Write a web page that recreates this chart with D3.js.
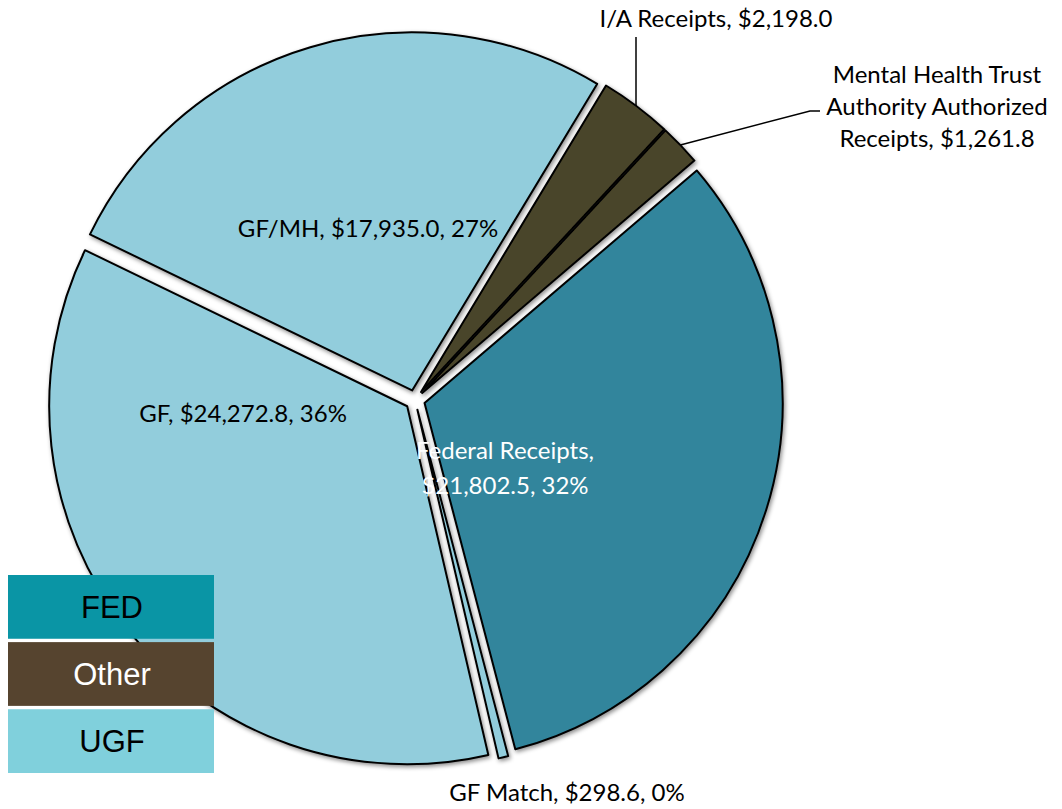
<!DOCTYPE html>
<html>
<head>
  <meta charset="utf-8">
  <script src="https://d3js.org/d3.v7.min.js"></script>
  <style>
    body { margin: 0; background: #fff; }
    .lbl { font-family: Lato, "Noto Sans", sans-serif; font-size: 24px; fill: #000; }
    .legend text { font-family: "Liberation Sans Narrow", "Liberation Sans", Arial, sans-serif; font-size: 31px; }
  </style>
</head>
<body>
<script>
  // data
  var categories = ["GF", "GF/MH", "I/A Receipts", "Mental Health Trust Authority Authorized Receipts", "Federal Receipts", "GF Match"];
  var values = [24272.8, 17935.0, 2198.0, 1261.8, 21802.5, 298.6];
  var percents = ["36%", "27%", "3%", "2%", "32%", "0%"];
  var groups = ["UGF", "UGF", "Other", "Other", "FED", "UGF"];
  var legendItems = ["FED", "Other", "UGF"];

  var width = 1062, height = 809;
  var cx = 415, cy = 400, radius = 358, explode = 10;
  var startDeg = 166.9;

  var sliceColor = { "UGF": "#92CDDC", "Other": "#4A452A", "FED": "#31859C" };
  var legendColor = { "FED": "#0A95A5", "Other": "#56442F", "UGF": "#80D0DC" };
  var legendText = { "FED": "#000", "Other": "#fff", "UGF": "#000" };

  var fmt = d3.format(",.1f");

  // label lines and positions (x = center of text block, y = first baseline)
  var labelLayout = [
    { x: 243, y: 422, dy: 0, color: "#000", lines: function(d) { return [d.name + ", $" + fmt(d.value) + ", " + d.pct]; } },
    { x: 368, y: 237, dy: 0, color: "#000", lines: function(d) { return [d.name + ", $" + fmt(d.value) + ", " + d.pct]; } },
    { x: 716, y: 27, dy: 0, color: "#000", lines: function(d) { return [d.name + ", $" + fmt(d.value)]; },
      leader: [[636, 37]] },
    { x: 937, y: 83, dy: 32, color: "#000", lines: function(d) { return ["Mental Health Trust", "Authority Authorized", "Receipts, $" + fmt(d.value)]; },
      leader: [[810, 111], [820, 111]] },
    { x: 505, y: 459, dy: 35, color: "#fff", lines: function(d) { return [d.name + ",", "$" + fmt(d.value) + ", " + d.pct]; } },
    { x: 567, y: 801, dy: 0, color: "#000", lines: function(d) { return [d.name + ", $" + fmt(d.value) + ", " + d.pct]; } }
  ];

  var data = categories.map(function(c, i) {
    return { name: c, value: values[i], group: groups[i], pct: percents[i] };
  });

  var svg = d3.select("body").append("svg")
    .attr("width", width)
    .attr("height", height);

  var defs = svg.append("defs");
  var f = defs.append("filter").attr("id", "shadow")
    .attr("x", "-10%").attr("y", "-10%").attr("width", "120%").attr("height", "120%");
  f.append("feDropShadow")
    .attr("dx", 1.5).attr("dy", 2).attr("stdDeviation", 2)
    .attr("flood-color", "#000").attr("flood-opacity", 0.45);

  var start = startDeg * Math.PI / 180;
  var pie = d3.pie().sort(null).value(function(d) { return d.value; })
    .startAngle(start).endAngle(start + 2 * Math.PI);
  var arcs = pie(data);

  var arc = d3.arc().innerRadius(0).outerRadius(radius);

  var g = svg.append("g").attr("transform", "translate(" + cx + "," + cy + ")");

  function offset(d) {
    var mid = (d.startAngle + d.endAngle) / 2;
    return [Math.sin(mid) * explode, -Math.cos(mid) * explode];
  }

  g.selectAll("path.slice")
    .data(arcs)
    .enter().append("path")
    .attr("class", "slice")
    .attr("transform", function(d) { var o = offset(d); return "translate(" + o[0] + "," + o[1] + ")"; })
    .attr("d", arc)
    .attr("fill", function(d) { return sliceColor[d.data.group]; })
    .attr("stroke", "#000")
    .attr("stroke-width", 2)
    .attr("stroke-linejoin", "round")
    .attr("filter", "url(#shadow)");

  // leader lines from slice edge to label
  arcs.forEach(function(d, i) {
    var L = labelLayout[i];
    if (!L.leader) return;
    var mid = (d.startAngle + d.endAngle) / 2;
    var r = radius + explode;
    var p0 = [cx + Math.sin(mid) * r, cy - Math.cos(mid) * r];
    var pts = [p0].concat(L.leader);
    if (L.leader.length === 1) pts = [[L.leader[0][0], p0[1]], L.leader[0]];
    svg.append("path")
      .attr("d", d3.line()(pts))
      .attr("fill", "none")
      .attr("stroke", "#000")
      .attr("stroke-width", 1.5);
  });

  // labels
  arcs.forEach(function(d, i) {
    var L = labelLayout[i];
    var t = svg.append("text")
      .attr("class", "lbl")
      .attr("text-anchor", "middle")
      .style("fill", L.color);
    L.lines(d.data).forEach(function(line, j) {
      t.append("tspan").attr("x", L.x).attr("y", L.y + j * L.dy).text(line);
    });
  });

  // legend
  var legendY = d3.scaleBand().domain(legendItems).range([575, 773]).paddingInner(0.05);
  var legend = svg.append("g").attr("class", "legend");
  legend.selectAll("rect")
    .data(legendItems)
    .enter().append("rect")
    .attr("x", 8)
    .attr("y", function(d) { return legendY(d); })
    .attr("width", 206)
    .attr("height", legendY.bandwidth())
    .attr("fill", function(d) { return legendColor[d]; });
  legend.selectAll("text")
    .data(legendItems)
    .enter().append("text")
    .attr("x", 112)
    .attr("y", function(d) { return legendY(d) + legendY.bandwidth() / 2 + 11; })
    .attr("text-anchor", "middle")
    .attr("fill", function(d) { return legendText[d]; })
    .text(function(d) { return d; });
</script>
</body>
</html>
